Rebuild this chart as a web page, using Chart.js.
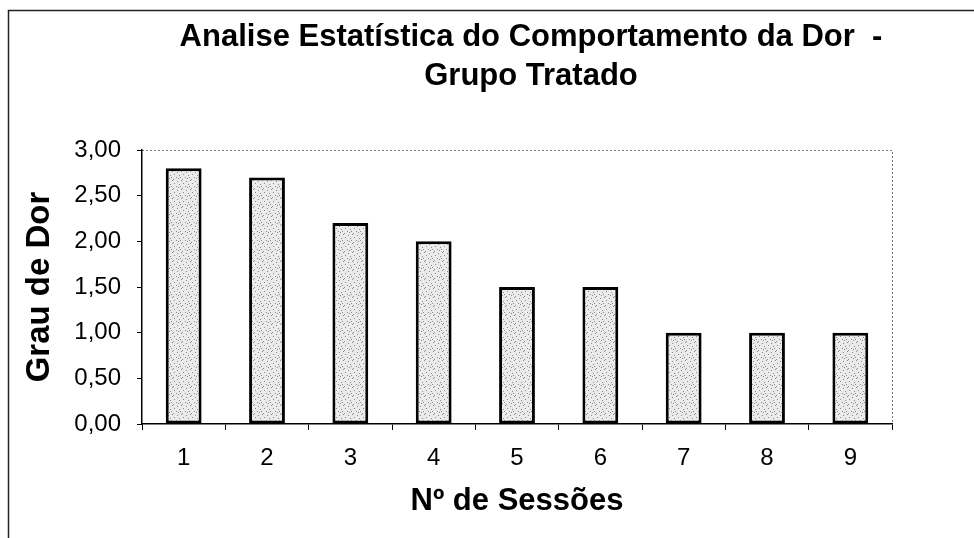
<!DOCTYPE html>
<html>
<head>
<meta charset="utf-8">
<script src="https://cdn.jsdelivr.net/npm/chart.js@4/dist/chart.umd.min.js"></script>
<style>
  html, body { margin: 0; padding: 0; background: #fff; }
  #wrap { width: 974px; height: 538px; }
</style>
</head>
<body>
<div id="wrap"><canvas id="dorChart" width="974" height="538"></canvas></div>
<script>
var sessoes = ["1", "2", "3", "4", "5", "6", "7", "8", "9"];
var grauDor = [2.8, 2.7, 2.2, 2.0, 1.5, 1.5, 1.0, 1.0, 1.0];
var tituloLinhas = ["Analise Estatística do Comportamento da Dor  -", "Grupo Tratado"];
var fonte = '"Liberation Sans", Arial, sans-serif';

// stipple fill like the scanned print
function makePattern() {
  var c = document.createElement('canvas');
  c.width = 9; c.height = 9;
  var g = c.getContext('2d');
  g.fillStyle = '#ebebeb';
  g.fillRect(0, 0, 9, 9);
  g.fillStyle = '#8c8c8c';
  var pts = [[1,0],[6,1],[3,3],[8,4],[0,6],[5,6],[2,8],[7,7]];
  for (var i = 0; i < pts.length; i++) g.fillRect(pts[i][0], pts[i][1], 1, 1);
  return g.createPattern(c, 'repeat');
}

var moldura = {
  id: 'moldura',
  beforeDraw: function(chart) {
    var ctx = chart.ctx, a = chart.chartArea;
    ctx.save();
    ctx.strokeStyle = '#222';
    ctx.lineWidth = 1.5;
    ctx.beginPath();
    ctx.moveTo(8.5, 540);
    ctx.lineTo(8.5, 10.5);
    ctx.lineTo(980, 10.5);
    ctx.stroke();
    // dotted plot area border top & right
    ctx.strokeStyle = '#777';
    ctx.lineWidth = 1;
    ctx.setLineDash([2, 2]);
    ctx.beginPath();
    ctx.moveTo(a.left, a.top + 0.5);
    ctx.lineTo(a.right + 0.5, a.top + 0.5);
    ctx.lineTo(a.right + 0.5, a.bottom);
    ctx.stroke();
    ctx.restore();
  },
  afterDraw: function(chart) {
    var ctx = chart.ctx;
    ctx.save();
    ctx.fillStyle = '#000';
    ctx.font = 'bold 31px ' + fonte;
    ctx.textAlign = 'center';
    ctx.textBaseline = 'middle';
    ctx.fillText(tituloLinhas[0], 531, 37);
    ctx.fillText(tituloLinhas[1], 531, 76);
    ctx.restore();
  }
};

var ctxB = document.getElementById('dorChart').getContext('2d');
var grafico = new Chart(ctxB, {
  type: 'bar',
  data: {
    labels: sessoes,
    datasets: [{
      data: grauDor,
      backgroundColor: makePattern(),
      borderColor: '#000',
      borderWidth: 3,
      borderSkipped: false,
      categoryPercentage: 1,
      barPercentage: 0.43
    }]
  },
  options: {
    responsive: false,
    animation: false,
    layout: { padding: { left: 0, right: 82, top: 150, bottom: 0 } },
    plugins: { legend: { display: false }, tooltip: { enabled: false } },
    scales: {
      x: {
        afterFit: function(s) { s.height = 114; },
        grid: { offset: true, drawOnChartArea: false, tickLength: 6, color: '#000' },
        border: { color: '#000', width: 1.5 },
        ticks: { color: '#000', padding: 14, font: { family: fonte, size: 24 } },
        title: {
          display: true, text: 'Nº de Sessões', color: '#000', padding: { top: 0, bottom: 18 },
          font: { family: fonte, size: 31, weight: 'bold' }
        }
      },
      y: {
        min: 0, max: 3,
        afterFit: function(s) { s.width = 142; },
        grid: { drawOnChartArea: false, tickLength: 5, color: '#000' },
        border: { color: '#000', width: 1.5 },
        ticks: {
          stepSize: 0.5, color: '#000', padding: 16,
          font: { family: fonte, size: 24 },
          callback: function(v) { return v.toFixed(2).replace('.', ','); }
        },
        title: {
          display: true, text: 'Grau de Dor', color: '#000', padding: { top: 20, bottom: 0 },
          font: { family: fonte, size: 33, weight: 'bold' }
        }
      }
    }
  },
  plugins: [moldura]
});
</script>
</body>
</html>
